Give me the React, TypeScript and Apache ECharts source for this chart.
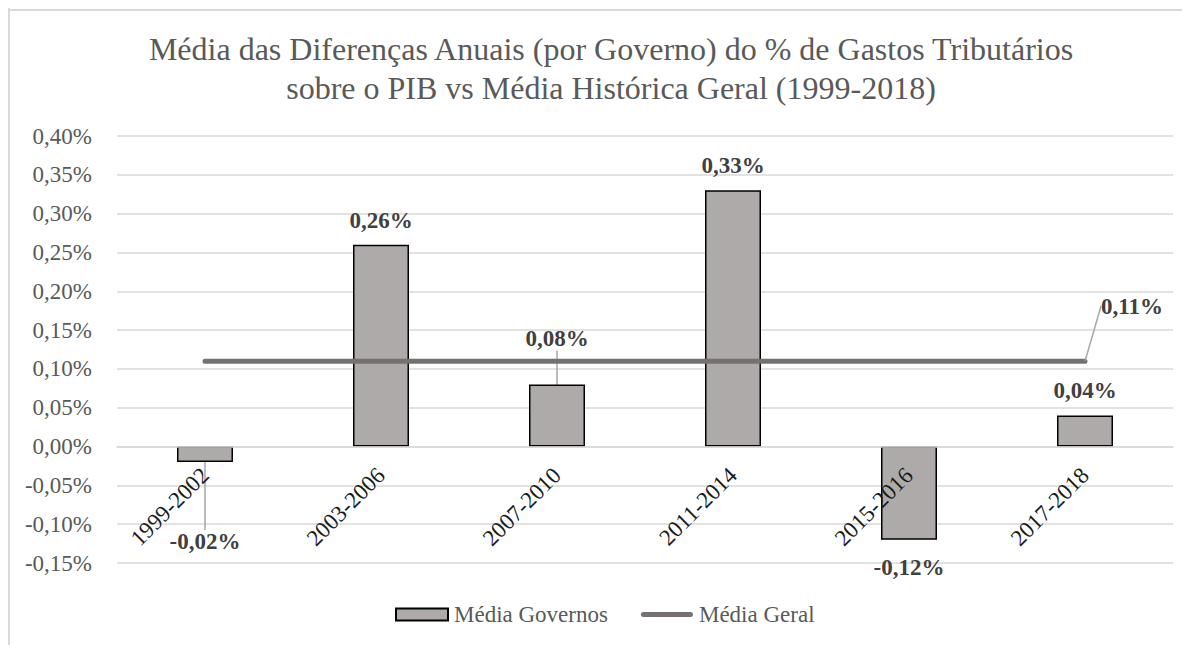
import React, { useEffect, useRef } from 'react';
import * as echarts from 'echarts';

const categories = ['1999-2002', '2003-2006', '2007-2010', '2011-2014', '2015-2016', '2017-2018'];
const mediaGovernos = [-0.02, 0.26, 0.08, 0.33, -0.12, 0.04];
const mediaGeral = [0.11, 0.11, 0.11, 0.11, 0.11, 0.11];
const yMin = -0.15;
const yMax = 0.4;
const yInterval = 0.05;
const seriesNames = ['Média Governos', 'Média Geral'];
const titleText =
  'Média das Diferenças Anuais (por Governo) do % de Gastos Tributários\nsobre o PIB vs Média Histórica Geral (1999-2018)';

const FONT = '"Liberation Serif", "Times New Roman", serif';

const fmt = (v: number) => {
  const x = Math.abs(v) < 1e-9 ? 0 : v;
  return x.toFixed(2).replace('.', ',') + '%';
};

const CHART_W = 1174;
const CHART_H = 637;
const GRID = { left: 109, right: 9, top: 128, bottom: 82 };

export default function App() {
  const ref = useRef<HTMLDivElement>(null);

  useEffect(() => {
    if (!ref.current) return;
    const chart = echarts.init(ref.current, undefined, { renderer: 'svg' });
    const last = mediaGeral.length - 1;

    // place the category axis on the zero line of the value axis
    const gridH = CHART_H - GRID.top - GRID.bottom;
    const zeroOffset = -(gridH * (0 - yMin)) / (yMax - yMin);

    const labelStyle = {
      fontFamily: FONT,
      fontSize: 23,
      fontWeight: 'bold' as const,
      color: '#404040',
    };
    const guide = { lineStyle: { color: '#A6A6A6', width: 1.5 } };

    const option: any = {
      animation: false,
      backgroundColor: '#ffffff',
      title: {
        text: titleText,
        left: 603,
        top: 21,
        textAlign: 'center',
        padding: 0,
        textStyle: {
          fontFamily: FONT,
          fontSize: 32,
          fontWeight: 'normal',
          color: '#595959',
          lineHeight: 39,
        },
      },
      graphic: [
        { type: 'rect', silent: true, shape: { x: 0, y: 0, width: 2, height: CHART_H }, style: { fill: '#d9d9d9' } },
        { type: 'rect', silent: true, shape: { x: 0, y: 1, width: CHART_W, height: 2 }, style: { fill: '#d9d9d9' } },
      ],
      legend: {
        left: 387,
        top: 595,
        padding: 0,
        itemWidth: 52,
        itemHeight: 12,
        itemGap: 33,
        textStyle: { fontFamily: FONT, fontSize: 23, color: '#595959', padding: [0, 0, 0, 1] },
        data: [
          { name: seriesNames[0], icon: 'rect' },
          {
            name: seriesNames[1],
            icon: 'path://M2.5,0 H49.5 A2.5,2.5 0 0 1 49.5,5 H2.5 A2.5,2.5 0 0 1 2.5,0 Z',
          },
        ],
      },
      grid: {
        ...GRID,
        containLabel: false,
        outerBoundsMode: 'none',
      },
      xAxis: {
        type: 'category',
        data: categories,
        position: 'bottom',
        offset: zeroOffset,
        z: 5,
        axisLine: { show: true, onZero: false, lineStyle: { color: '#d9d9d9', width: 1.5 } },
        axisTick: { show: false },
        splitLine: { show: false },
        axisLabel: {
          interval: 0,
          rotate: 45,
          margin: 25,
          hideOverlap: false,
          fontFamily: FONT,
          fontSize: 23,
          color: '#1a1a1a',
        },
      },
      yAxis: {
        type: 'value',
        min: yMin,
        max: yMax,
        interval: yInterval,
        axisLine: { show: false },
        axisTick: { show: false },
        splitLine: { show: true, lineStyle: { color: '#d9d9d9', width: 1.5 } },
        axisLabel: {
          margin: 25,
          fontFamily: FONT,
          fontSize: 23,
          color: '#595959',
          formatter: (v: number) => fmt(v),
        },
      },
      series: [
        {
          type: 'bar',
          name: seriesNames[0],
          data: mediaGovernos.map((v, i) => ({
            value: v,
            labelLine: { show: i === 0 || i === 2, ...guide },
            label: i === 4 ? { distance: 16 } : undefined,
          })),
          barWidth: 56,
          itemStyle: { color: '#AEAAAA', borderColor: '#000000', borderWidth: 1.5 },
          label: {
            show: true,
            position: 'outside',
            distance: 13,
            formatter: (p: any) => fmt(p.value),
            ...labelStyle,
          },
          labelLayout: (params: any) => {
            if (params.dataIndex === 0) return { dy: 55 };
            if (params.dataIndex === 2) return { dy: -21 };
            return {};
          },
          z: 2,
        },
        {
          type: 'line',
          name: seriesNames[1],
          data: mediaGeral.map((v, i) =>
            i === last
              ? { value: v, label: { show: true }, labelLine: { show: true, ...guide } }
              : { value: v }
          ),
          symbol: 'circle',
          symbolSize: 1,
          showSymbol: true,
          lineStyle: { color: '#767171', width: 5, cap: 'round' },
          itemStyle: { color: '#767171' },
          label: {
            show: false,
            position: 'top',
            distance: 5,
            formatter: (p: any) => fmt(p.value),
            ...labelStyle,
          },
          labelLayout: (params: any) => (params.dataIndex === last ? { dx: 47, dy: -38 } : {}),
          z: 3,
        },
      ],
    };

    chart.setOption(option);
    return () => chart.dispose();
  }, []);

  return (
    <div
      ref={ref}
      style={{ position: 'absolute', left: 8, top: 8, width: CHART_W, height: CHART_H }}
    />
  );
}
